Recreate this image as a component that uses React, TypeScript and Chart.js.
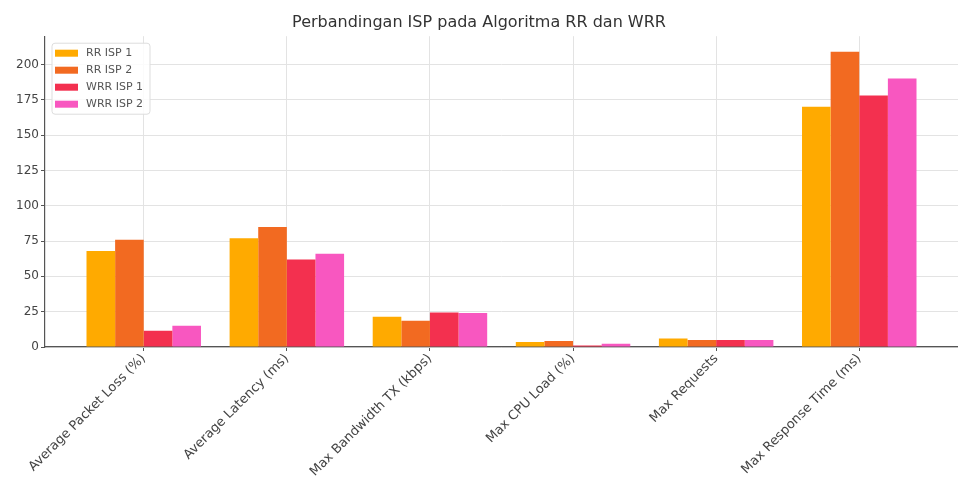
import React, { useEffect, useRef } from "react";
import { Chart, registerables } from "chart.js";

Chart.register(...registerables);

const categories = [
  "Average Packet Loss (%)",
  "Average Latency (ms)",
  "Max Bandwidth TX (kbps)",
  "Max CPU Load (%)",
  "Max Requests",
  "Max Response Time (ms)",
];

const seriesLabels = ["RR ISP 1", "RR ISP 2", "WRR ISP 1", "WRR ISP 2"];
const rrIsp1 = [68, 77, 21.5, 3.5, 6, 170];
const rrIsp2 = [76, 85, 18.5, 4.2, 5, 209];
const wrrIsp1 = [11.5, 62, 24.5, 1, 5, 178];
const wrrIsp2 = [15, 66, 24, 2.3, 5, 190];
const yTicks = [0, 25, 50, 75, 100, 125, 150, 175, 200];
const colors = ["#FFAA00", "#F26A21", "#F3304F", "#F857C0"];

const FONT = "'DejaVu Sans', Verdana, sans-serif";

const insideLegend = {
  id: "insideLegend",
  afterDraw(chart: any) {
    const { ctx, chartArea } = chart;
    const x0 = chartArea.left + 7;
    const y0 = chartArea.top + 7;
    const w = 98;
    const h = 71;
    ctx.save();
    ctx.beginPath();
    const r = 3;
    ctx.moveTo(x0 + r, y0);
    ctx.lineTo(x0 + w - r, y0);
    ctx.quadraticCurveTo(x0 + w, y0, x0 + w, y0 + r);
    ctx.lineTo(x0 + w, y0 + h - r);
    ctx.quadraticCurveTo(x0 + w, y0 + h, x0 + w - r, y0 + h);
    ctx.lineTo(x0 + r, y0 + h);
    ctx.quadraticCurveTo(x0, y0 + h, x0, y0 + h - r);
    ctx.lineTo(x0, y0 + r);
    ctx.quadraticCurveTo(x0, y0, x0 + r, y0);
    ctx.closePath();
    ctx.fillStyle = "rgba(255,255,255,0.85)";
    ctx.fill();
    ctx.strokeStyle = "#dddddd";
    ctx.lineWidth = 1;
    ctx.stroke();
    ctx.font = `11px ${FONT}`;
    ctx.textBaseline = "middle";
    ctx.textAlign = "left";
    chart.data.datasets.forEach((ds: any, i: number) => {
      const cy = y0 + 10 + i * 17;
      ctx.fillStyle = ds.backgroundColor;
      ctx.fillRect(x0 + 3, cy - 3.5, 23, 7);
      ctx.fillStyle = "#555555";
      ctx.fillText(ds.label, x0 + 34, cy);
    });
    ctx.restore();
  },
};

export default function App() {
  const ref = useRef<HTMLCanvasElement>(null);
  useEffect(() => {
    if (!ref.current) return;
    const series = [rrIsp1, rrIsp2, wrrIsp1, wrrIsp2];
    const chart = new Chart(ref.current, {
      type: "bar",
      data: {
        datasets: series.map((vals, s) => ({
          label: seriesLabels[s],
          data: vals.map((v, i) => ({ x: i, y: v })),
          backgroundColor: colors[s],
          borderWidth: 0,
          categoryPercentage: 0.8,
          barPercentage: 1.0,
        })),
      },
      options: {
        responsive: false,
        animation: false,
        layout: { padding: { left: 0, right: 0, top: 0, bottom: 0 } },
        plugins: {
          legend: { display: false },
          tooltip: { enabled: false },
          title: {
            display: true,
            text: "Perbandingan ISP pada Algoritma RR dan WRR",
            color: "#333333",
            font: { family: FONT, size: 16, weight: "normal" },
            padding: { top: 13, bottom: 4 },
          },
        },
        scales: {
          x: {
            type: "linear",
            min: -0.69,
            max: 5.69,
            offset: false,
            afterBuildTicks: (axis: any) => {
              axis.ticks = categories.map((_, i) => ({ value: i }));
            },
            afterFit: (axis: any) => {
              axis.height = 132;
            },
            ticks: {
              autoSkip: false,
              maxRotation: 45,
              minRotation: 45,
              padding: 0,
              color: "#444444",
              font: { family: FONT, size: 13 },
              callback: (v: any) => categories[Math.round(Number(v))] ?? "",
            },
            grid: {
              offset: false,
              color: "#e3e3e3",
              borderDash: [3, 2],
              tickLength: 4,
              tickColor: "#555555",
              tickBorderDash: [0, 0],
            },
            border: { display: true, color: "#555555", width: 1.2 },
          },
          y: {
            min: 0,
            max: 220,
            afterBuildTicks: (axis: any) => {
              axis.ticks = yTicks.map((v) => ({ value: v }));
            },
            afterFit: (axis: any) => {
              axis.width = 45;
            },
            ticks: {
              padding: 2,
              color: "#444444",
              font: { family: FONT, size: 12 },
              callback: (v: any) => String(v),
            },
            grid: {
              color: "#e3e3e3",
              borderDash: [3, 2],
              tickLength: 4,
              tickColor: "#555555",
              tickBorderDash: [0, 0],
            },
            border: { display: true, color: "#555555", width: 1.2 },
          },
        },
      },
      plugins: [insideLegend],
    } as any);
    return () => chart.destroy();
  }, []);
  return (
    <div style={{ position: "absolute", left: 0, top: 0, width: 958, height: 479, background: "#fff" }}>
      <canvas ref={ref} width={958} height={479} />
    </div>
  );
}
